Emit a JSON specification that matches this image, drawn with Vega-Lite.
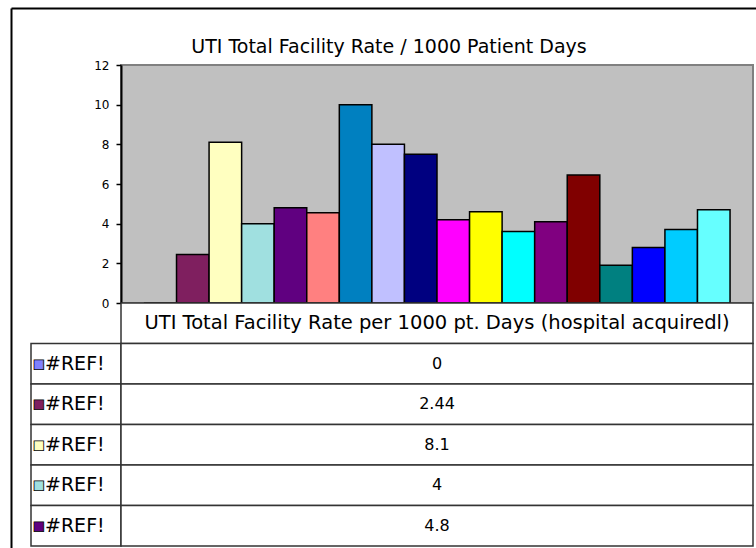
{
  "$schema": "https://vega.github.io/schema/vega-lite/v6.json",
  "background": "white",
  "padding": {"left": 11, "top": 8, "right": 0, "bottom": 0},
  "autosize": {"type": "pad"},
  "datasets": {
    "series": [
      {"series": "S1", "label": "#REF!", "rate": 0},
      {"series": "S2", "label": "#REF!", "rate": 2.44},
      {"series": "S3", "label": "#REF!", "rate": 8.1},
      {"series": "S4", "label": "#REF!", "rate": 4},
      {"series": "S5", "label": "#REF!", "rate": 4.8},
      {"series": "S6", "label": "#REF!", "rate": 4.55},
      {"series": "S7", "label": "#REF!", "rate": 10},
      {"series": "S8", "label": "#REF!", "rate": 8},
      {"series": "S9", "label": "#REF!", "rate": 7.5},
      {"series": "S10", "label": "#REF!", "rate": 4.2},
      {"series": "S11", "label": "#REF!", "rate": 4.6},
      {"series": "S12", "label": "#REF!", "rate": 3.6},
      {"series": "S13", "label": "#REF!", "rate": 4.1},
      {"series": "S14", "label": "#REF!", "rate": 6.45},
      {"series": "S15", "label": "#REF!", "rate": 1.9},
      {"series": "S16", "label": "#REF!", "rate": 2.8},
      {"series": "S17", "label": "#REF!", "rate": 3.7},
      {"series": "S18", "label": "#REF!", "rate": 4.7}
    ],
    "header": [
      {"series": "hdr", "label": "UTI Total Facility Rate per 1000 pt. Days (hospital acquiredl)"}
    ]
  },
  "columns": 2,
  "spacing": 0,
  "bounds": "flush",
  "concat": [
    {
      "width": 90,
      "height": 238,
      "data": {"values": []},
      "mark": "point",
      "view": {"stroke": null},
      "encoding": {
        "x": {"field": "f", "type": "quantitative", "scale": {"domain": [0, 1], "range": [-20, 725]},
          "axis": {"orient": "top", "offset": 57, "values": [], "labels": false, "ticks": false, "grid": false, "title": null, "domainColor": "black", "domainWidth": 2}},
        "y": {"field": "f", "type": "quantitative", "scale": {"domain": [0, 1], "range": [483, -57]},
          "axis": {"orient": "left", "offset": 20, "values": [], "labels": false, "ticks": false, "grid": false, "title": null, "domainColor": "black", "domainWidth": 2}}
      }
    },
    {
      "width": 632,
      "height": 238,
      "title": {"text": "UTI Total Facility Rate / 1000 Patient Days", "font": "DejaVu Sans", "fontSize": 19, "fontWeight": "normal", "color": "black", "anchor": "middle", "frame": "group", "dx": -48, "offset": 2},
      "data": {"name": "series"},
      "view": {"fill": "#C0C0C0", "stroke": "#808080", "strokeWidth": 2},
      "mark": {"type": "bar", "stroke": "black", "strokeWidth": 1.5},
      "encoding": {
        "x": {"field": "series", "type": "nominal", "sort": null, "scale": {"paddingInner": 0, "paddingOuter": 0.705}, "axis": null},
        "y": {"field": "rate", "type": "quantitative", "scale": {"domain": [0, 12], "nice": false},
          "axis": {"values": [0, 2, 4, 6, 8, 10, 12], "title": null, "grid": false, "domainColor": "black", "domainWidth": 2, "tickColor": "black", "tickSize": 5, "tickWidth": 1.5, "labelPadding": 7, "labelFont": "DejaVu Sans", "labelFontSize": 12, "labelColor": "black"}},
        "color": {"field": "series", "type": "nominal", "legend": null,
          "scale": {"domain": ["S1","S2","S3","S4","S5","S6","S7","S8","S9","S10","S11","S12","S13","S14","S15","S16","S17","S18"],
            "range": ["#8080FF","#7F1F5F","#FFFFC0","#A0E0E0","#600080","#FF8080","#0080C0","#C0C0FF","#000080","#FF00FF","#FFFF00","#00FFFF","#800080","#800000","#008080","#0000FF","#00CCFF","#66FFFF"]}}
      }
    },
    {
      "width": 90,
      "height": 243,
      "view": {"stroke": null},
      "data": {"name": "series"},
      "transform": [{"filter": {"field": "series", "oneOf": ["S1","S2","S3","S4","S5"]}}],
      "encoding": {
        "y": {"field": "series", "type": "nominal", "sort": null, "scale": {"type": "band", "domain": ["hdr","S1","S2","S3","S4","S5"], "paddingInner": 0, "paddingOuter": 0}, "axis": null}
      },
      "layer": [
        {"mark": {"type": "rect", "fill": "white", "stroke": "#333333", "strokeWidth": 1.5}},
        {"mark": {"type": "text", "text": "■", "align": "left", "dx": -43, "font": "DejaVu Sans", "fontSize": 12.5, "stroke": "black", "strokeWidth": 0.8},
          "encoding": {"color": {"field": "series", "type": "nominal", "legend": null,
            "scale": {"domain": ["S1","S2","S3","S4","S5","S6","S7","S8","S9","S10","S11","S12","S13","S14","S15","S16","S17","S18"],
              "range": ["#8080FF","#7F1F5F","#FFFFC0","#A0E0E0","#600080","#FF8080","#0080C0","#C0C0FF","#000080","#FF00FF","#FFFF00","#00FFFF","#800080","#800000","#008080","#0000FF","#00CCFF","#66FFFF"]}}}},
        {"mark": {"type": "text", "align": "left", "dx": -31, "font": "DejaVu Sans", "fontSize": 19, "color": "black"},
          "encoding": {"text": {"field": "label", "type": "nominal"}}}
      ]
    },
    {
      "width": 632,
      "height": 243,
      "view": {"stroke": null},
      "encoding": {
        "y": {"field": "series", "type": "nominal", "sort": null, "scale": {"type": "band", "domain": ["hdr","S1","S2","S3","S4","S5"], "paddingInner": 0, "paddingOuter": 0}, "axis": null}
      },
      "layer": [
        {"data": {"name": "header"},
          "mark": {"type": "rect", "fill": "white", "stroke": "#333333", "strokeWidth": 1.5}},
        {"data": {"name": "header"},
          "mark": {"type": "text", "font": "DejaVu Sans", "fontSize": 19.5, "color": "black"},
          "encoding": {"text": {"field": "label", "type": "nominal"}}},
        {"data": {"name": "series"},
          "transform": [{"filter": {"field": "series", "oneOf": ["S1","S2","S3","S4","S5"]}}],
          "mark": {"type": "rect", "fill": "white", "stroke": "#333333", "strokeWidth": 1.5}},
        {"data": {"name": "series"},
          "transform": [{"filter": {"field": "series", "oneOf": ["S1","S2","S3","S4","S5"]}}],
          "mark": {"type": "text", "font": "DejaVu Sans", "fontSize": 16, "color": "black"},
          "encoding": {"text": {"field": "rate", "type": "nominal"}}}
      ]
    }
  ],
  "config": {"view": {"stroke": null}}
}
